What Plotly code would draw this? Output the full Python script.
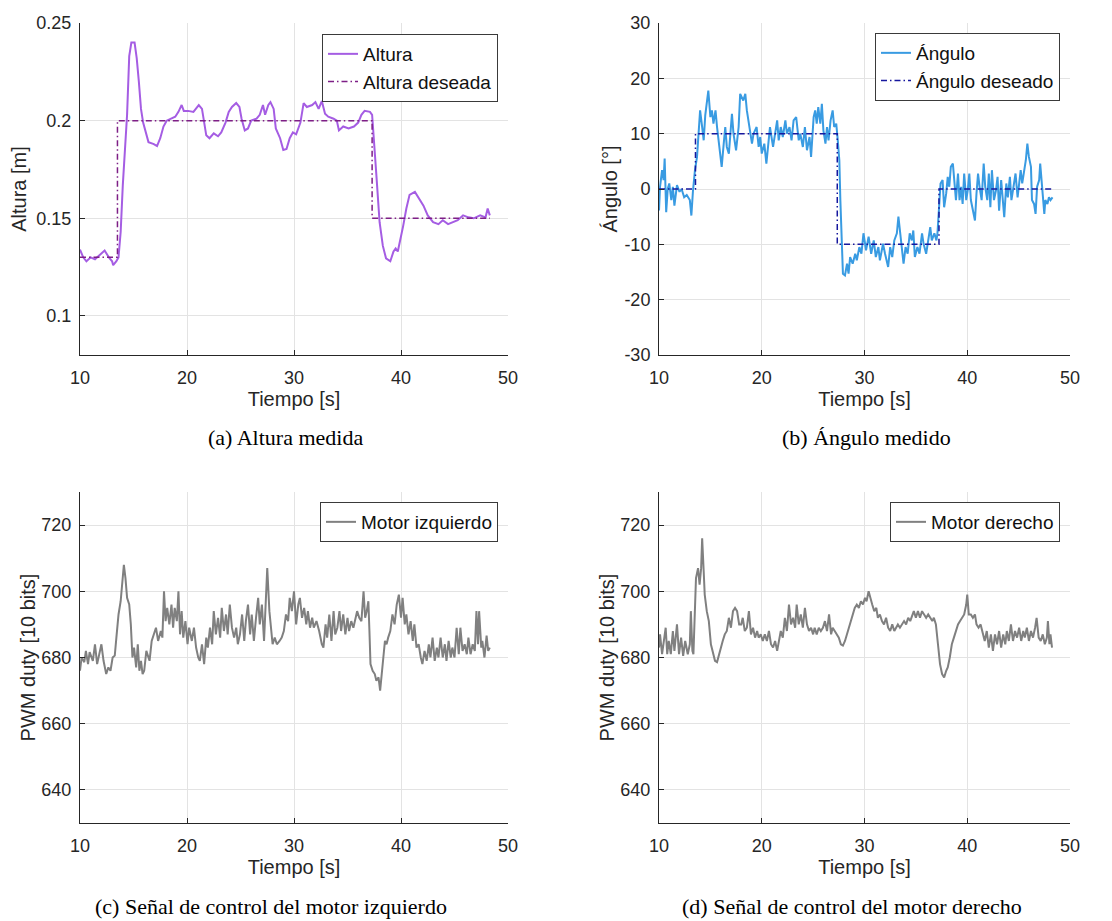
import plotly.graph_objects as go

# The page body adds an 8px margin; lay everything out in reference pixels
# and shift by that offset.
OFF = 8
W, H = 1112 - OFF, 921 - OFF

# ---------------- data ----------------
t_altura = [10.0, 10.3, 10.6, 11.0, 11.4, 11.8, 12.3, 12.7, 13.0, 13.1,
            13.4, 13.6, 13.8, 14.0, 14.4, 14.6, 14.8, 15.1, 15.3, 15.5,
            15.7, 15.9, 16.2, 16.4, 16.9, 17.2, 17.5, 17.8, 18.1, 18.6,
            18.9, 19.2, 19.5, 19.7, 20.1, 20.6, 21.1, 21.4, 21.6, 21.8,
            22.1, 22.5, 22.9, 23.2, 23.6, 23.9, 24.2, 24.6, 24.9, 25.1,
            25.4, 25.7, 26.0, 26.5, 26.8, 27.1, 27.3, 27.6, 27.8, 28.1,
            28.3, 28.7, 29.0, 29.3, 29.6, 29.9, 30.2, 30.6, 30.9, 31.2,
            31.7, 32.0, 32.3, 32.6, 32.9, 33.2, 33.7, 34.0, 34.2, 34.6,
            35.1, 35.6, 36.0, 36.3, 36.6, 37.1, 37.3, 37.4, 37.7, 38.0,
            38.3, 38.6, 39.0, 39.3, 39.5, 39.7, 39.9, 40.2, 40.5, 40.8,
            41.3, 41.7, 42.1, 42.5, 43.0, 43.5, 43.9, 44.4, 44.9, 45.3,
            45.8, 46.3, 46.8, 47.4, 47.9, 48.1, 48.3]
altura = [0.134, 0.130, 0.128, 0.130, 0.129, 0.131, 0.1335, 0.130, 0.128, 0.126,
          0.128, 0.130, 0.143, 0.167, 0.203, 0.233, 0.240, 0.240, 0.232, 0.220,
          0.206, 0.199, 0.1925, 0.189, 0.188, 0.187, 0.191, 0.197, 0.200, 0.201,
          0.202, 0.2045, 0.208, 0.205, 0.205, 0.2045, 0.208, 0.206, 0.199, 0.1925,
          0.191, 0.1935, 0.192, 0.194, 0.199, 0.2045, 0.207, 0.209, 0.207, 0.201,
          0.195, 0.196, 0.200, 0.201, 0.203, 0.208, 0.203, 0.208, 0.2095, 0.206,
          0.196, 0.191, 0.185, 0.1855, 0.191, 0.194, 0.193, 0.199, 0.209, 0.207,
          0.208, 0.2095, 0.206, 0.210, 0.2035, 0.202, 0.201, 0.200, 0.195, 0.197,
          0.196, 0.197, 0.199, 0.203, 0.205, 0.2045, 0.203, 0.194, 0.172, 0.148,
          0.136, 0.1295, 0.128, 0.133, 0.1345, 0.133, 0.138, 0.146, 0.155, 0.162,
          0.1635, 0.160, 0.1565, 0.1515, 0.148, 0.147, 0.149, 0.147, 0.148, 0.149,
          0.1515, 0.1505, 0.150, 0.1515, 0.1505, 0.155, 0.1515]

t_altura_ref = [10.0, 13.5, 37.3, 48.3]
altura_ref = [0.13, 0.20, 0.15, 0.15]

t_angulo = [10.0, 10.1, 10.3, 10.45, 10.55, 10.7, 10.85, 11.0, 11.2, 11.35,
            11.5, 11.75, 12.0, 12.2, 12.45, 12.7, 13.0, 13.15, 13.3, 13.5,
            13.7, 13.85, 14.0, 14.2, 14.35, 14.5, 14.7, 14.8, 15.0, 15.15,
            15.3, 15.5, 15.65, 15.9, 16.1, 16.3, 16.45, 16.6, 16.8, 16.95,
            17.1, 17.25, 17.5, 17.75, 17.9, 18.2, 18.4, 18.55, 18.7, 18.9,
            19.05, 19.2, 19.5, 19.7, 19.85, 20.0, 20.25, 20.45, 20.65, 20.8,
            21.1, 21.3, 21.5, 21.65, 21.85, 22.05, 22.3, 22.45, 22.7, 22.9,
            23.1, 23.35, 23.6, 23.75, 24.0, 24.2, 24.4, 24.65, 24.8, 25.05,
            25.2, 25.35, 25.5, 25.7, 25.85, 26.0, 26.2, 26.35, 26.5, 26.7,
            26.9, 27.05, 27.25, 27.4, 27.55, 27.65, 27.8, 27.9, 28.1, 28.3,
            28.45, 28.6, 28.85, 29.1, 29.25, 29.5, 29.7, 29.9, 30.15, 30.4,
            30.65, 30.9, 31.1, 31.35, 31.5, 31.8, 32.0, 32.3, 32.5, 32.7,
            32.9, 33.15, 33.3, 33.45, 33.6, 33.8, 34.0, 34.2, 34.4, 34.6,
            34.75, 34.9, 35.15, 35.35, 35.6, 35.75, 36.0, 36.2, 36.4, 36.55,
            36.8, 37.0, 37.1, 37.3, 37.4, 37.6, 37.75, 37.95, 38.1, 38.25,
            38.4, 38.6, 38.75, 38.9, 39.1, 39.25, 39.4, 39.55, 39.7, 39.9,
            40.05, 40.2, 40.35, 40.5, 40.75, 40.9, 41.05, 41.2, 41.4, 41.6,
            41.75, 41.95, 42.1, 42.25, 42.4, 42.6, 42.8, 42.95, 43.1, 43.3,
            43.5, 43.6, 43.8, 43.95, 44.15, 44.3, 44.5, 44.7, 44.9, 45.0,
            45.2, 45.35, 45.5, 45.7, 45.85, 46.0, 46.2, 46.3, 46.5, 46.65,
            46.8, 47.0, 47.1, 47.3, 47.5, 47.6, 47.8, 47.95, 48.1, 48.3]
angulo = [-3.9, 0.4, 3.4, 1.6, 5.5, -4.2, 0, 1, -2, 0.4,
          -3, 0.7, -0.5, 0, -1.5, -1.1, -2, -4.8, -0.5, 3.4,
          5.8, 11.2, 14.2, 11.2, 8.8, 13.3, 16, 17.8, 13, 14.2,
          11.8, 14.2, 11.2, 7.6, 4, 8.2, 11.2, 7.6, 6.4, 10,
          13.6, 10, 7, 11.2, 17.2, 16, 17.2, 14.2, 12.4, 10.6,
          8.2, 10, 11.2, 7.6, 9.4, 6.4, 8.2, 4.6, 8.8, 11.2,
          7.6, 10, 12.4, 8.8, 11.2, 9.4, 12.4, 10, 11.2, 8.8,
          12.4, 13, 8.8, 10, 7.6, 11.2, 7, 9.4, 5.8, 13,
          14.2, 11.8, 14.8, 11.8, 15.4, 10.6, 8.2, 11.2, 8.8, 12.4,
          14.2, 11.2, 11.8, 8.8, 5.2, -2, -10.5, -15.3, -15.6, -13.5,
          -15.3, -12.3, -13.5, -11.7, -12.9, -10.5, -11.7, -8, -11.1, -8.6,
          -11.7, -9.3, -12.3, -10.5, -12.9, -9.9, -11.7, -14.1, -10.5, -12.3,
          -9.3, -8, -5, -7.5, -11.1, -13.5, -10.5, -11.7, -8, -9.3,
          -7.5, -12.3, -10.5, -11.7, -8, -9.9, -11.7, -9.3, -6.9, -9.3,
          -8, -9.3, -8, -2, 1, 1.6, -3.3, -0.8, 2.2, 0.4,
          4, 4.6, 0.4, -2, 2.8, -2, 0.4, -2.7, 2.8, -2,
          -0.2, 2.8, -2, -3.3, -5.7, -0.8, 2.8, 0.4, -2, 4.6,
          0.4, -2, 2.8, -3.3, 3.4, -2, -0.2, 2.2, -3.9, 1.6,
          -2, -5.1, 1, -1.5, 2.2, -2, 0.4, 2.8, -1.5, 0.4,
          3.4, 1, 2.8, 5.2, 8.2, 5.8, 4, -2, -2.7, -4.5,
          0.4, 1.6, 4.6, 0.4, -4.5, -2, -2.7, -1.5, -2, -1.5]

t_angulo_ref = [10.0, 13.55, 27.35, 37.25, 48.2]
angulo_ref = [0, 10, -10, 0, 0]

t_izq = [10.0, 10.15, 10.4, 10.55, 10.75, 10.9, 11.2, 11.4, 11.6, 11.8,
         12.0, 12.2, 12.45, 12.65, 12.85, 13.05, 13.25, 13.4, 13.6, 13.8,
         13.95, 14.1, 14.25, 14.4, 14.6, 14.75, 14.9, 15.05, 15.25, 15.4,
         15.55, 15.7, 15.85, 16.0, 16.2, 16.5, 16.7, 16.9, 17.1, 17.3,
         17.55, 17.7, 17.85, 18.0, 18.15, 18.35, 18.55, 18.7, 18.85, 19.05,
         19.2, 19.35, 19.5, 19.65, 19.85, 20.05, 20.2, 20.45, 20.65, 20.85,
         21.05, 21.2, 21.4, 21.6, 21.8, 21.95, 22.15, 22.35, 22.5, 22.7,
         22.9, 23.1, 23.25, 23.45, 23.65, 23.8, 24.0, 24.2, 24.4, 24.6,
         24.75, 24.95, 25.15, 25.35, 25.5, 25.7, 25.9, 26.05, 26.25, 26.45,
         26.65, 26.8, 27.0, 27.2, 27.35, 27.5, 27.7, 27.8, 28.0, 28.2,
         28.4, 28.65, 28.85, 29.05, 29.25, 29.45, 29.6, 29.8, 30.0, 30.2,
         30.4, 30.55, 30.75, 30.95, 31.15, 31.3, 31.5, 31.7, 31.85, 32.1,
         32.35, 32.6, 32.75, 32.95, 33.1, 33.3, 33.5, 33.7, 33.85, 34.05,
         34.25, 34.4, 34.6, 34.8, 35.0, 35.15, 35.35, 35.55, 35.7, 35.9,
         36.1, 36.3, 36.5, 36.65, 36.8, 36.95, 37.05, 37.15, 37.35, 37.55,
         37.7, 37.9, 38.05, 38.2, 38.35, 38.5, 38.65, 38.8, 39.0, 39.2,
         39.4, 39.6, 39.8, 40.0, 40.15, 40.35, 40.5, 40.7, 40.9, 41.1,
         41.25, 41.45, 41.65, 41.85, 42.0, 42.2, 42.4, 42.6, 42.75, 42.95,
         43.15, 43.35, 43.5, 43.7, 43.9, 44.1, 44.25, 44.45, 44.65, 44.8,
         45.0, 45.2, 45.4, 45.55, 45.75, 45.95, 46.15, 46.3, 46.5, 46.7,
         46.9, 47.05, 47.2, 47.3, 47.5, 47.6, 47.8, 48.0, 48.15, 48.3]
motor_izq = [676, 680, 678.6, 682, 678, 681.6, 679, 684, 678, 681,
             684, 679, 675, 677, 676, 680, 680.6, 686, 693, 697,
             704, 708, 704, 698, 696, 690, 680, 683, 677, 684,
             676, 679, 675, 676, 682, 679, 685, 687, 689, 685,
             688, 686, 700, 691, 695, 690, 696, 689, 695, 691,
             700, 687, 694, 686, 691, 684, 689, 685, 689, 683,
             680, 679, 684, 678, 686, 683, 689, 684, 694, 687,
             692, 686, 695, 688, 693, 687, 696, 689, 686, 689,
             684, 687, 693, 685, 691, 696, 687, 693, 685, 692,
             698, 690, 696, 685, 696, 707, 694, 690, 684, 686,
             684, 685, 686, 688, 693, 691, 698, 694, 700, 690,
             696, 698, 692, 695, 690, 694, 689, 692, 689, 691,
             688, 684, 683, 690, 686, 693, 685, 694, 687, 689,
             694, 688, 693, 687, 692, 688, 691, 689, 691, 694,
             692, 691, 700, 692, 694, 697, 688, 678, 676, 675,
             673, 674, 670, 676, 680, 685, 684, 686, 688, 693,
             690, 696, 699, 692, 698, 690, 693, 687, 691, 685,
             690, 683, 684, 680, 678, 682, 679, 684, 680, 686,
             679, 683, 680, 686, 680, 684, 679, 685, 680, 683,
             680, 689, 681, 689, 682, 684, 681, 686, 681, 684,
             682, 694, 684, 694, 683, 685, 680, 686.6, 682, 683]

t_der = [10.0, 10.1, 10.3, 10.45, 10.65, 10.8, 10.95, 11.15, 11.35, 11.5,
         11.75, 11.95, 12.15, 12.35, 12.55, 12.8, 13.0, 13.1, 13.25, 13.35,
         13.5, 13.6, 13.8, 13.95, 14.1, 14.2, 14.35, 14.45, 14.65, 14.85,
         15.05, 15.25, 15.45, 15.65, 15.85, 16.05, 16.2, 16.4, 16.6, 16.8,
         17.0, 17.2, 17.4, 17.6, 17.8, 18.0, 18.15, 18.35, 18.55, 18.75,
         18.95, 19.15, 19.35, 19.55, 19.7, 19.9, 20.1, 20.3, 20.5, 20.7,
         20.9, 21.1, 21.3, 21.5, 21.65, 21.85, 22.05, 22.25, 22.45, 22.65,
         22.85, 23.05, 23.25, 23.4, 23.6, 23.8, 24.0, 24.2, 24.4, 24.6,
         24.8, 25.0, 25.15, 25.35, 25.55, 25.75, 25.95, 26.15, 26.35, 26.55,
         26.75, 26.9, 27.1, 27.3, 27.5, 27.7, 27.9, 28.1, 28.3, 28.5,
         28.65, 28.85, 29.05, 29.25, 29.45, 29.65, 29.85, 30.05, 30.2, 30.4,
         30.55, 30.75, 30.95, 31.15, 31.3, 31.5, 31.7, 31.9, 32.1, 32.3,
         32.5, 32.7, 32.9, 33.1, 33.25, 33.45, 33.65, 33.85, 34.05, 34.25,
         34.45, 34.65, 34.8, 35.0, 35.2, 35.4, 35.6, 35.8, 36.0, 36.2,
         36.4, 36.6, 36.75, 36.95, 37.15, 37.35, 37.55, 37.75, 37.95, 38.1,
         38.3, 38.5, 38.7, 38.9, 39.1, 39.3, 39.5, 39.7, 39.9, 40.0,
         40.15, 40.35, 40.55, 40.75, 40.9, 41.1, 41.3, 41.5, 41.7, 41.9,
         42.1, 42.3, 42.5, 42.7, 42.9, 43.1, 43.3, 43.5, 43.7, 43.85,
         44.05, 44.25, 44.45, 44.65, 44.85, 45.05, 45.25, 45.45, 45.6, 45.8,
         46.0, 46.2, 46.4, 46.6, 46.75, 46.95, 47.15, 47.35, 47.55, 47.75,
         47.85, 48.0, 48.1, 48.25]
motor_der = [683, 687, 681, 684, 689, 681, 685, 681, 688, 682,
             690, 681, 686, 680.5, 685, 681, 684, 694, 682, 681,
             696, 704, 707, 702, 707, 716, 706, 699, 694, 691,
             684, 681, 679, 678.6, 681, 684, 685, 687, 688, 692,
             689, 694, 695, 694, 690, 690, 692, 688, 689, 694,
             687, 689, 686, 688, 686, 687, 685, 687, 685, 688,
             684, 683, 685, 682, 685, 688, 686, 692, 688, 696,
             690, 692, 689, 696, 690, 693, 689, 695, 690, 688,
             689, 687, 689, 687, 689, 688, 689, 691, 688, 693,
             687, 689, 688, 687, 686, 684, 683.6, 685, 687, 689,
             691, 693, 695, 696, 695, 697, 696, 698, 697, 700,
             698, 696, 694, 695, 692, 693, 691, 690, 692, 689,
             688, 690, 688, 689, 690, 689, 690, 691, 690, 692,
             691, 693, 694, 692, 694, 692, 694, 693, 692, 693,
             692, 691, 692, 690, 684, 678, 675, 674, 676, 677,
             680, 684, 686, 688, 690, 691, 692, 693, 696, 699,
             693, 693, 692, 693, 690, 689, 690, 687, 685, 688,
             683, 687, 682, 687, 684, 688, 683, 687, 684, 688,
             685, 690, 685, 688, 686, 689, 685, 688, 686, 689,
             685, 688, 686, 689, 692, 686, 685, 687, 684, 686,
             691, 684, 687, 683]

x_ticks = [10, 20, 30, 40, 50]
alt_ticks = [0.1, 0.15, 0.2, 0.25]
alt_ticktext = ["0.1", "0.15", "0.2", "0.25"]
ang_ticks = [-30, -20, -10, 0, 10, 20, 30]
ang_ticktext = ["-30", "-20", "-10", "0", "10", "20", "30"]
pwm_ticks = [640, 660, 680, 700, 720]
pwm_ticktext = ["640", "660", "680", "700", "720"]

captions = ["(a) Altura medida", "(b) Ángulo medido",
            "(c) Señal de control del motor izquierdo",
            "(d) Señal de control del motor derecho"]

# ---------------- styling ----------------
SANS = "Liberation Sans, Arial, sans-serif"
SERIF = "Liberation Serif, Times New Roman, serif"
AX = "#262626"
GRID = "#E3E3E3"
TICK_SIZE = 18
TITLE_SIZE = 20
LEGEND_SIZE = 19


def px_x(p):
    return (p - OFF) / W


def px_y(p):
    return 1 - (p - OFF) / H


fig = go.Figure()

fig.add_trace(go.Scatter(x=t_altura, y=altura, name="Altura", mode="lines",
                         line=dict(color="#A55DE3", width=2),
                         xaxis="x", yaxis="y", legend="legend"))
fig.add_trace(go.Scatter(x=t_altura_ref, y=altura_ref, name="Altura deseada", mode="lines",
                         line=dict(color="#7E1F86", width=1.5, dash="6px,3px,1.5px,3px", shape="hv"),
                         xaxis="x", yaxis="y", legend="legend"))
fig.add_trace(go.Scatter(x=t_angulo, y=angulo, name="Ángulo", mode="lines",
                         line=dict(color="#399BE2", width=2),
                         xaxis="x2", yaxis="y2", legend="legend2"))
fig.add_trace(go.Scatter(x=t_angulo_ref, y=angulo_ref, name="Ángulo deseado", mode="lines",
                         line=dict(color="#16179E", width=1.5, dash="6px,3px,1.5px,3px", shape="hv"),
                         xaxis="x2", yaxis="y2", legend="legend2"))
fig.add_trace(go.Scatter(x=t_izq, y=motor_izq, name="Motor izquierdo", mode="lines",
                         line=dict(color="#808080", width=2),
                         xaxis="x3", yaxis="y3", legend="legend3"))
fig.add_trace(go.Scatter(x=t_der, y=motor_der, name="Motor derecho", mode="lines",
                         line=dict(color="#808080", width=2),
                         xaxis="x4", yaxis="y4", legend="legend4"))


def xaxis(dom, anchor):
    return dict(domain=dom, anchor=anchor, range=[10, 50], tickvals=x_ticks,
                ticks="inside", ticklen=5, tickcolor=AX, showline=True, linecolor=AX,
                linewidth=1, showgrid=True, gridcolor=GRID, gridwidth=1, zeroline=False,
                tickfont=dict(family=SANS, size=TICK_SIZE, color=AX),
                ticklabelstandoff=6,
                title=dict(text="Tiempo [s]", font=dict(family=SANS, size=TITLE_SIZE, color=AX),
                           standoff=3),
                automargin=False, fixedrange=True)


def yaxis(dom, anchor, rng, tv, tt, title, standoff):
    return dict(domain=dom, anchor=anchor, range=rng, tickvals=tv, ticktext=tt,
                ticks="inside", ticklen=5, tickcolor=AX, showline=True, linecolor=AX,
                linewidth=1, showgrid=True, gridcolor=GRID, gridwidth=1, zeroline=False,
                tickfont=dict(family=SANS, size=TICK_SIZE, color=AX),
                ticklabelstandoff=4,
                title=dict(text=title, font=dict(family=SANS, size=TITLE_SIZE, color=AX),
                           standoff=standoff),
                automargin=False, fixedrange=True)


xa = [px_x(80), px_x(508)]
xb = [px_x(659), px_x(1070)]
ytop = [px_y(355), px_y(23)]
ybot = [px_y(823), px_y(492)]


def legend(right, top):
    return dict(x=px_x(right), y=px_y(top), xanchor="right", yanchor="top",
                bgcolor="white", bordercolor="#3A3A3A", borderwidth=1,
                font=dict(family=SANS, size=LEGEND_SIZE, color="#111111"),
                tracegroupgap=0, itemwidth=30)


fig.update_layout(
    width=W, height=H,
    margin=dict(l=0, r=0, t=0, b=0),
    paper_bgcolor="white", plot_bgcolor="white",
    showlegend=True,
    xaxis=xaxis(xa, "y"),
    yaxis=yaxis(ytop, "x", [0.08, 0.25], alt_ticks, alt_ticktext, "Altura [m]", 4),
    xaxis2=xaxis(xb, "y2"),
    yaxis2=yaxis(ytop, "x2", [-30, 30], ang_ticks, ang_ticktext, "Ángulo [°]", 1),
    xaxis3=xaxis(xa, "y3"),
    yaxis3=yaxis(ybot, "x3", [630, 730], pwm_ticks, pwm_ticktext, "PWM duty [10 bits]", 0),
    xaxis4=xaxis(xb, "y4"),
    yaxis4=yaxis(ybot, "x4", [630, 730], pwm_ticks, pwm_ticktext, "PWM duty [10 bits]", 0),
    legend=legend(498, 34),
    legend2=legend(1060, 33),
    legend3=legend(498, 502),
    legend4=legend(1060, 502),
)

cap_pos = [(285, 437), (866, 437), (271, 906), (852, 906)]
for text, (cx, cy) in zip(captions, cap_pos):
    fig.add_annotation(text=text, xref="paper", yref="paper", x=px_x(cx), y=px_y(cy),
                       xanchor="center", yanchor="middle", showarrow=False,
                       font=dict(family=SERIF, size=22, color="black"))

fig.write_html("out.html")
